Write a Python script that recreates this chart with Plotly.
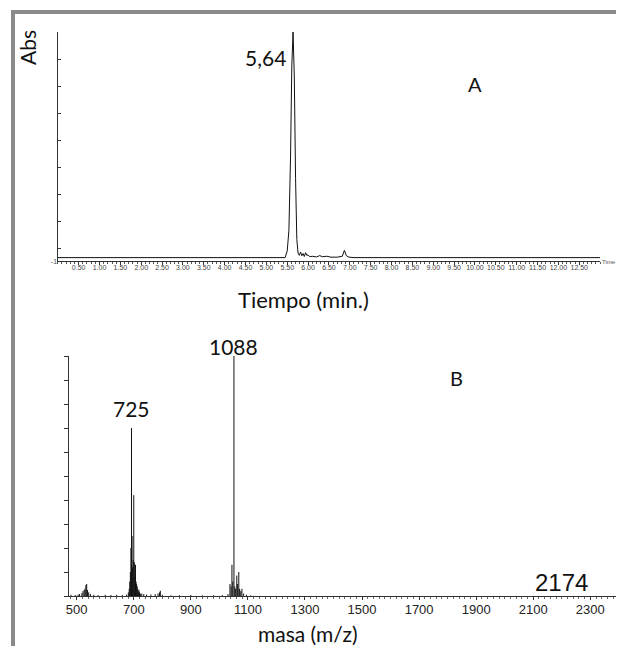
import plotly.graph_objects as go

# The page body has an 8px margin, so the figure is placed 8px in and
# reference pixel positions are shifted by 8px.
OFF = 8
W, H = 616, 638

# ---------- Panel A: chromatogram (time in min, absorbance % of max) ----------
time_min = [0.0, 5.45, 5.50, 5.54, 5.58, 5.61, 5.64, 5.67, 5.70, 5.73, 5.76, 5.79,
            5.82, 5.85, 5.88, 5.91, 5.94, 5.97, 6.00, 6.04, 6.10, 6.20, 6.28, 6.34,
            6.45, 6.55, 6.70, 6.82, 6.87, 6.92, 6.98, 7.10, 13.0]
abs_pct = [0.0, 0.0, 3.0, 12.0, 45.0, 85.0, 100.0, 80.0, 35.0, 8.0, 2.0, 1.0,
           2.5, 0.8, 1.8, 0.5, 2.2, 1.0, 1.2, 0.4, 0.6, 0.3, 0.9, 0.4,
           0.6, 0.2, 0.2, 0.6, 3.2, 0.8, 0.2, 0.0, 0.0]

# ---------- Panel B: mass spectrum (m/z, relative intensity %) ----------
mz = [480, 495, 505, 510, 518, 522, 526, 529, 532, 535, 538, 542, 548, 560, 575, 600,
      620, 640, 660, 675, 681, 684, 686, 688, 690, 692, 694, 696, 698, 700, 702, 704,
      706, 708, 710, 712, 714, 716, 718, 720, 723, 728, 735, 745, 760, 775, 785, 790,
      793, 800, 830, 860, 900, 940, 980, 1010, 1030, 1037, 1041, 1044, 1047, 1051,
      1054, 1057, 1061, 1064, 1068, 1071, 1075, 1079, 1085, 1095, 1110]
intensity = [0.5, 0.4, 0.6, 0.8, 1.2, 2.0, 2.5, 3.0, 4.5, 5.0, 2.5, 1.5, 0.8, 0.5, 0.4, 0.5,
             0.4, 0.5, 0.4, 0.6, 1.5, 3.0, 6.0, 10.0, 20.0, 70.0, 25.0, 12.0, 15.0, 42.0, 14.0, 8.0,
             13.0, 6.0, 5.0, 4.0, 3.0, 2.0, 2.5, 1.5, 1.0, 1.0, 0.8, 0.6, 0.6, 0.8, 1.0, 1.5,
             2.2, 0.5, 0.3, 0.3, 0.4, 0.3, 0.3, 0.4, 0.8, 5.0, 4.0, 13.0, 6.0, 100.0,
             4.0, 3.0, 8.5, 5.0, 10.0, 3.0, 2.0, 3.0, 1.0, 0.5, 0.3]

x_ticks_a = [0.5 * i for i in range(1, 26)]
x_tick_text_a = ["%.2f" % v for v in x_ticks_a]


def px(x):
    return (x - OFF) / W


def py(y):
    return 1 - (y - OFF) / H


stick_x, stick_y = [], []
for m, v in zip(mz, intensity):
    stick_x += [m, m, None]
    stick_y += [0, v, None]

fig = go.Figure()
fig.add_trace(go.Scatter(x=time_min, y=abs_pct, mode="lines",
                         line=dict(color="#111111", width=1),
                         xaxis="x", yaxis="y", hoverinfo="skip"))
fig.add_trace(go.Scatter(x=stick_x, y=stick_y, mode="lines",
                         line=dict(color="#111111", width=1),
                         xaxis="x2", yaxis="y2", hoverinfo="skip"))

ann_font = dict(family="Lato", color="#111111")
annotations = [
    dict(text="Abs", x=px(24), y=py(47), textangle=-90, font=dict(size=21, **ann_font)),
    dict(text="5,64", x=px(264), y=py(58), font=dict(size=21, **ann_font)),
    dict(text="A", x=px(474), y=py(84), font=dict(size=20, **ann_font)),
    dict(text="Tiempo (min.)", x=px(302), y=py(300), font=dict(size=22, **ann_font)),
    dict(text="-1", x=px(51), y=py(262), font=dict(size=7, family="Liberation Sans", color="#555")),
    dict(text="Time", x=px(609), y=py(262), font=dict(size=6, family="Liberation Sans", color="#555")),
    dict(text="1088", x=px(232), y=py(346), font=dict(size=21, **ann_font)),
    dict(text="725", x=px(129), y=py(408), font=dict(size=21, **ann_font)),
    dict(text="B", x=px(456), y=py(378), font=dict(size=20, **ann_font)),
    dict(text="2174", x=px(561), y=py(582), font=dict(size=24, family="Liberation Sans", color="#111")),
    dict(text="masa (m/z)", x=px(306), y=py(633), font=dict(size=21, **ann_font)),
]
for a in annotations:
    a.update(xref="paper", yref="paper", showarrow=False, xanchor="center", yanchor="middle")

# gray picture frame: only its left and top edges fall inside the picture
fx0, fy0, fx1, fy1 = px(10), -0.05, 1.05, py(12)
frame_path = "M %f,%f L %f,%f L %f,%f" % (fx0, fy0, fx0, fy1, fx1, fy1)

fig.update_layout(
    width=W, height=H,
    margin=dict(l=0, r=0, t=0, b=0),
    paper_bgcolor="white", plot_bgcolor="white",
    showlegend=False,
    annotations=annotations,
    shapes=[dict(type="path", xref="paper", yref="paper", path=frame_path,
                 line=dict(color="#8a8a8a", width=4))],
    xaxis=dict(domain=[px(55), px(600)], range=[0, 13.0], anchor="y",
               showline=True, linecolor="#333", linewidth=1, showgrid=False, zeroline=False,
               ticks="outside", ticklen=3, tickcolor="#333",
               tickvals=x_ticks_a, ticktext=x_tick_text_a, ticklabelstandoff=-3,
               tickfont=dict(family="Liberation Sans", size=7, color="#444"),
               minor=dict(dtick=0.1, tick0=0, ticks="outside", ticklen=2, tickcolor="#555")),
    yaxis=dict(domain=[py(261), py(32)], range=[-1.5, 100], anchor="x",
               showline=True, linecolor="#333", linewidth=1, showgrid=False, zeroline=False,
               ticks="inside", ticklen=3, tickcolor="#333", tick0=100, dtick=12,
               showticklabels=False),
    xaxis2=dict(domain=[px(66), 1.0], range=[472, 2418], anchor="y2",
                showline=True, linecolor="#333", linewidth=1, showgrid=False, zeroline=False,
                ticks="outside", ticklen=3, tickcolor="#333", tick0=500, dtick=200,
                ticklabelstandoff=-2,
                tickfont=dict(family="Liberation Sans", size=13, color="#222"),
                minor=dict(dtick=20, tick0=500, ticks="outside", ticklen=2, tickcolor="#666")),
    yaxis2=dict(domain=[py(596), py(356)], range=[0, 100], anchor="x2",
                showline=True, linecolor="#333", linewidth=1, showgrid=False, zeroline=False,
                ticks="outside", ticklen=4, tickcolor="#333", tick0=0, dtick=10,
                showticklabels=False),
)

fig.write_html("out.html")
